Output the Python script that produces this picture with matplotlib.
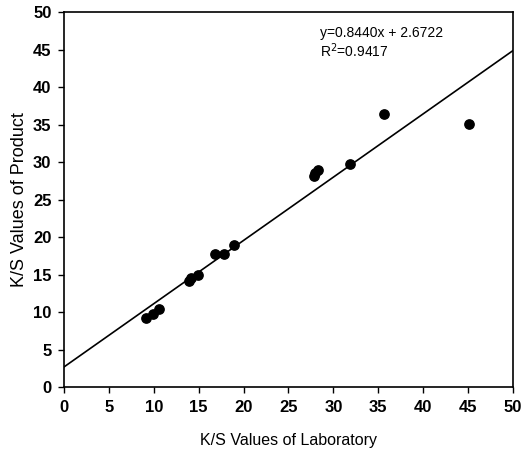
import numpy as np
import matplotlib.pyplot as plt

plt.rcParams['font.family'] = ['Liberation Sans', 'DejaVu Sans']

# K/S values
lab = [9.1, 9.9, 10.6, 13.9, 14.2, 14.9, 16.8, 17.8, 18.9, 27.8, 28.0, 28.3, 31.9, 35.6, 45.1]
product = [9.2, 9.7, 10.4, 14.2, 14.5, 14.9, 17.7, 17.7, 19.0, 28.1, 28.5, 28.9, 29.7, 36.4, 35.1]

slope = 0.8440
intercept = 2.6722
line_x = [0, 50]

fig = plt.figure(figsize=(5.24, 4.49), dpi=100)
ax = fig.add_axes([0.122, 0.138, 0.857, 0.835])

ax.scatter(lab, product, s=45, color='black', zorder=3)
ax.plot(line_x, [slope * v + intercept for v in line_x], color='black', lw=1.2)

ax.set_xlim(0, 50)
ax.set_ylim(0, 50)
ax.set_xticks(np.arange(0, 51, 5))
ax.set_yticks(np.arange(0, 51, 5))
ax.tick_params(direction='out', length=4, width=1, labelsize=12, pad=5)
for lbl in ax.get_xticklabels() + ax.get_yticklabels():
    lbl.set_fontweight('bold')
for sp in ax.spines.values():
    sp.set_linewidth(1.2)

ax.set_xlabel('K/S Values of Laboratory', fontsize=11.5)
ax.set_ylabel('K/S Values of Product', fontsize=13)
ax.xaxis.set_label_coords(0.5, -0.123)
ax.yaxis.set_label_coords(-0.08, 0.5)

# regression equation
ax.text(28.5, 45.9, 'y=0.8440x + 2.6722\nR$^2$=0.9417', fontsize=10,
        va='center', ha='left', linespacing=1.05)

fig.savefig('out.png', dpi=100)
